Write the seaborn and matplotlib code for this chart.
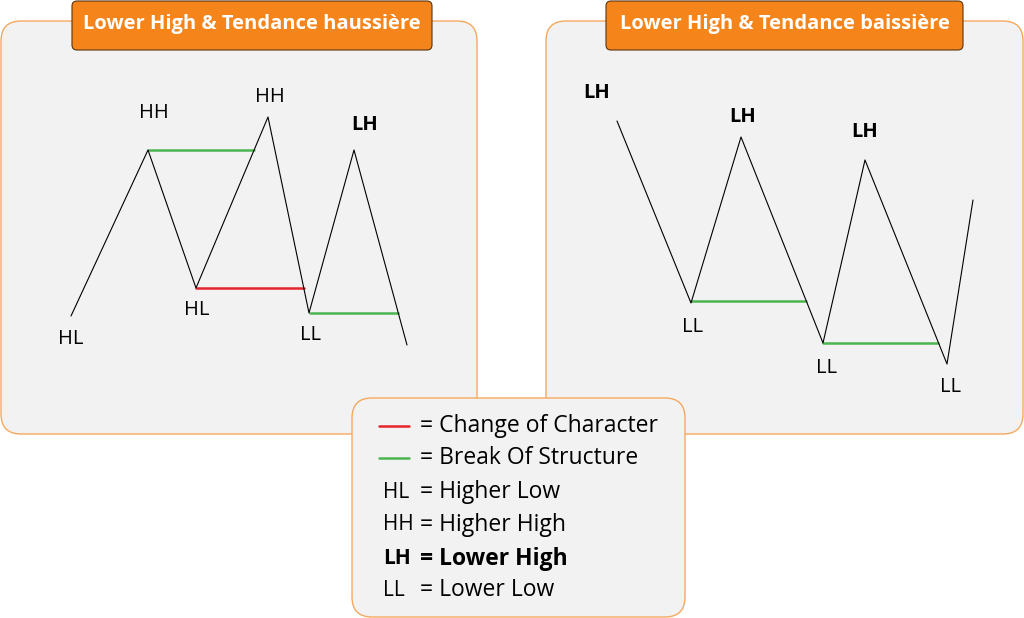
import numpy as np
import pandas as pd
import matplotlib
matplotlib.use('Agg')
import matplotlib.pyplot as plt
from matplotlib.patches import FancyBboxPatch
import seaborn as sns

sns.set_theme(style='white')
plt.rcParams['font.family'] = ['Open Sans', 'DejaVu Sans']
plt.rcParams['text.color'] = 'black'

# zigzag du panneau gauche (tendance haussière) : x, y en pixels
up_x = [71, 148, 196, 268, 309, 354, 407]
up_y = [316, 150, 288, 117, 313, 150, 345]
up_labels = ['HL', 'HH', 'HL', 'HH', 'LL', 'LH']
up_label_x = [71, 154, 197, 270, 311, 365]
up_label_y = [339, 113, 310, 97, 335, 125]
up_bold = [False, False, False, False, False, True]

# zigzag du panneau droit (tendance baissière)
down_x = [617, 691, 741, 823, 865, 947, 973]
down_y = [121, 303, 137, 343, 160, 364, 200]
down_labels = ['LH', 'LH', 'LH', 'LL', 'LL', 'LL']
down_label_x = [597, 743, 865, 692, 827, 951]
down_label_y = [93, 117, 132, 327, 368, 387]
down_bold = [True, True, True, False, False, False]

# lignes horizontales : (x0, x1, y, type)
levels_x0 = [148, 196, 310, 691, 823]
levels_x1 = [254, 304, 398, 806, 938]
levels_y = [150, 288, 313, 301, 343]
levels_kind = ['bos', 'choch', 'bos', 'bos', 'bos']

titles = ['Lower High & Tendance haussière', 'Lower High & Tendance baissière']

legend_keys = ['', '', 'HL', 'HH', 'LH', 'LL']
legend_texts = ['= Change of Character', '= Break Of Structure', '= Higher Low',
                '= Higher High', '= Lower High', '= Lower Low']

colors = {'choch': '#e3262b', 'bos': '#4bb54f'}
orange = '#f5841a'
panel_edge = '#f5a95e'
panel_fill = '#f2f2f2'

fig = plt.figure(figsize=(10.24, 6.18), dpi=100)
ax = fig.add_axes([0, 0, 1, 1])
ax.set_xlim(0, 1024)
ax.set_ylim(618, 0)
ax.axis('off')

# panneaux
for x0, x1 in [(1, 477), (546, 1023)]:
    ax.add_patch(FancyBboxPatch((x0 + 20, 41), x1 - x0 - 40, 373,
                                boxstyle='round,pad=20', fc=panel_fill,
                                ec=panel_edge, lw=1.0, zorder=1))

# boites de titre
for (x0, x1), t in zip([(72, 432), (606, 963)], titles):
    ax.add_patch(FancyBboxPatch((x0 + 5, 6), x1 - x0 - 10, 39,
                                boxstyle='round,pad=5', fc=orange,
                                ec='#5a3512', lw=0.8, zorder=5))
    ax.text((x0 + x1) / 2, 24, t, color='white', fontsize=14.5,
            fontweight='bold', ha='center', va='center', zorder=6)

# zigzags
up = pd.DataFrame({'x': up_x, 'y': up_y})
down = pd.DataFrame({'x': down_x, 'y': down_y})
for d in [up, down]:
    sns.lineplot(data=d, x='x', y='y', sort=False, estimator=None,
                 color='black', lw=0.8, ax=ax, zorder=3)

# BOS / CHoCH
lv = pd.DataFrame({'x0': levels_x0, 'x1': levels_x1, 'y': levels_y, 'kind': levels_kind})
for _, r in lv.iterrows():
    seg = pd.DataFrame({'x': [r.x0, r.x1], 'y': [r.y, r.y]})
    sns.lineplot(data=seg, x='x', y='y', estimator=None, color=colors[r.kind],
                 lw=1.8, ax=ax, zorder=2)

# étiquettes
for labs, lx, ly, bold in [(up_labels, up_label_x, up_label_y, up_bold),
                           (down_labels, down_label_x, down_label_y, down_bold)]:
    for t, x, y, b in zip(labs, lx, ly, bold):
        ax.text(x, y, t, fontsize=14.5, ha='center', va='center',
                fontweight='bold' if b else 'normal', color='black', zorder=4)

# légende
ax.add_patch(FancyBboxPatch((372, 418), 293, 179, boxstyle='round,pad=20',
                            fc=panel_fill, ec=panel_edge, lw=1.0, zorder=7))
leg_y = [426, 458, 492, 525, 559, 590]
for i, (k, t) in enumerate(zip(legend_keys, legend_texts)):
    y = leg_y[i]
    b = 'bold' if k == 'LH' else 'normal'
    if i == 0:
        ax.plot([379, 409], [y, y], color=colors['choch'], lw=1.8, zorder=8)
    elif i == 1:
        ax.plot([379, 409], [y, y], color=colors['bos'], lw=1.8, zorder=8)
    else:
        ax.text(383, y, k, fontsize=15, fontweight=b, color='black',
                ha='left', va='center', zorder=8)
    ax.text(420, y, t, fontsize=16.5, fontweight=b, color='black',
            ha='left', va='center', zorder=8)

if ax.get_legend() is not None:
    ax.get_legend().remove()

fig.savefig('out.png', dpi=100, facecolor='white')
